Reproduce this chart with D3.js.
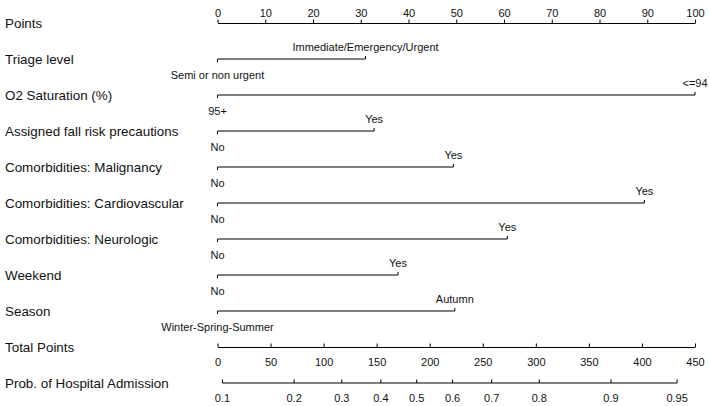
<!DOCTYPE html>
<html>
<head>
<meta charset="utf-8">
<script src="https://cdn.jsdelivr.net/npm/d3@7"></script>
<style>
  html, body { margin: 0; padding: 0; background: #fff; }
  svg text { font-family: "Liberation Sans", Arial, sans-serif; fill: #111; }
</style>
</head>
<body>
<div id="chart"></div>
<script>
// --- data ---
const variables = [
    "Triage level",
    "O2 Saturation (%)",
    "Assigned fall risk precautions",
    "Comorbidities: Malignancy",
    "Comorbidities: Cardiovascular",
    "Comorbidities: Neurologic",
    "Weekend",
    "Season"
];
const lowLevels = ["Semi or non urgent", "95+", "No", "No", "No", "No", "No", "Winter-Spring-Summer"];
const highLevels = ["Immediate/Emergency/Urgent", "<=94", "Yes", "Yes", "Yes", "Yes", "Yes", "Autumn"];
const highPoints = [31, 100, 32.8, 49.4, 89.4, 60.7, 37.8, 49.7];

const pointTicks = [0, 10, 20, 30, 40, 50, 60, 70, 80, 90, 100];
const totalTicks = [0, 50, 100, 150, 200, 250, 300, 350, 400, 450];
const probTicks = [0.1, 0.2, 0.3, 0.4, 0.5, 0.6, 0.7, 0.8, 0.9, 0.95];

// logistic link: logit(p) = intercept + slope * total points
const intercept = -2.253;
const slope = 0.012;

const width = 710, height = 406;
const x0 = 217.5, x1 = 695;
const rowTop = 23, rowStep = 36;

const svg = d3.select("#chart").append("svg")
    .attr("width", width)
    .attr("height", height);

const x = d3.scaleLinear().domain([0, 100]).range([x0, x1]);
const xTotal = d3.scaleLinear().domain([0, 450]).range([x0, x1]);

const rowNames = ["Points"].concat(variables, ["Total Points", "Prob. of Hospital Admission"]);
const y = d3.scalePoint()
    .domain(rowNames)
    .range([rowTop, rowTop + rowStep * (rowNames.length - 1)]);

// Row titles
svg.selectAll(".row-label")
    .data(rowNames)
    .enter().append("text")
    .attr("class", "row-label")
    .attr("x", 5)
    .attr("y", d => y(d))
    .attr("dy", "0.35em")
    .style("font-size", "13.4px")
    .text(d => d);

// Points axis (ticks up, labels above)
const pointsG = svg.append("g").attr("transform", `translate(0,${y("Points")})`);
pointsG.call(d3.axisTop(x).tickValues(d3.range(0, 101, 2)).tickSize(1.5).tickSizeOuter(0).tickFormat(""));
pointsG.call(d3.axisTop(x).tickValues(pointTicks).tickSize(3.5).tickSizeOuter(0).tickPadding(3));

// Variable rows
variables.forEach((v, i) => {
    const yy = y(v);
    const g = svg.append("g");
    const xa = x(0), xb = x(highPoints[i]);
    g.append("line")
        .attr("x1", xa).attr("x2", xb)
        .attr("y1", yy).attr("y2", yy)
        .attr("stroke", "#000").attr("stroke-width", 1.2);
    g.append("line")
        .attr("x1", xa).attr("x2", xa)
        .attr("y1", yy).attr("y2", yy + 3)
        .attr("stroke", "#000");
    g.append("line")
        .attr("x1", xb).attr("x2", xb)
        .attr("y1", yy).attr("y2", yy - 3)
        .attr("stroke", "#000");
    g.append("text")
        .attr("x", xa).attr("y", yy + 20)
        .attr("text-anchor", "middle")
        .style("font-size", "11px")
        .text(lowLevels[i]);
    g.append("text")
        .attr("x", xb).attr("y", yy - 8)
        .attr("text-anchor", "middle")
        .style("font-size", "11px")
        .text(highLevels[i]);
});

// Total points axis (ticks up, labels below)
const totalG = svg.append("g").attr("transform", `translate(0,${y("Total Points")})`);
totalG.call(d3.axisBottom(xTotal).tickValues(d3.range(0, 451, 10)).tickSize(-1.5).tickSizeOuter(0).tickFormat(""));
totalG.call(d3.axisBottom(xTotal).tickValues(totalTicks).tickSize(-3.5).tickSizeOuter(0).tickPadding(11));

// Probability axis
const probToTotal = p => (Math.log(p / (1 - p)) - intercept) / slope;
const xProb = p => xTotal(probToTotal(p));
const probG = svg.append("g").attr("transform", `translate(0,${y("Prob. of Hospital Admission")})`);
probG.append("line")
    .attr("x1", xProb(probTicks[0])).attr("x2", xProb(probTicks[probTicks.length - 1]))
    .attr("stroke", "#000").attr("stroke-width", 1.2);
probG.selectAll(".ptick")
    .data(probTicks)
    .enter().append("line")
    .attr("x1", d => xProb(d)).attr("x2", d => xProb(d))
    .attr("y1", 0).attr("y2", -3.5)
    .attr("stroke", "#000");
probG.selectAll(".plabel")
    .data(probTicks)
    .enter().append("text")
    .attr("x", d => xProb(d))
    .attr("y", 11)
    .attr("dy", "0.71em")
    .attr("text-anchor", "middle")
    .style("font-size", "11px")
    .text(d => d);

// axis styling
svg.selectAll(".tick text").style("font-size", "11px").attr("fill", "#111");
svg.selectAll(".domain").attr("stroke", "#000").attr("stroke-width", 1.2);
svg.selectAll(".tick line").attr("stroke", "#000");
</script>
</body>
</html>
